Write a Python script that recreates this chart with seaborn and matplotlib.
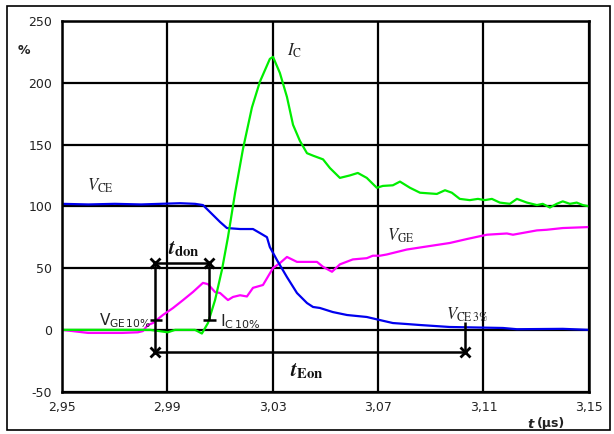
import numpy as np
import pandas as pd
import matplotlib
matplotlib.use("Agg")
import matplotlib.pyplot as plt
import seaborn as sns
from matplotlib.patches import Rectangle

# ---------------- data ----------------
t_vce = [2.950, 2.960, 2.970, 2.980, 2.9948, 3.0005, 3.0035, 3.0073, 3.0100, 3.0126,
         3.0176, 3.0225, 3.0251, 3.0278, 3.0289, 3.0316, 3.0354, 3.0392, 3.0430, 3.0453,
         3.0479, 3.0528, 3.0582, 3.0657, 3.0707, 3.0756, 3.0809, 3.0859, 3.0972, 3.1174,
         3.1227, 3.1401, 3.1500]
vce = [102.0, 101.5, 102.0, 101.5, 102.5, 102.0, 101.0, 93.0, 87.3, 82.4,
       81.6, 81.6, 78.4, 75.0, 67.0, 56.5, 42.7, 29.8, 21.7, 18.5,
       17.7, 14.4, 12.0, 10.4, 7.9, 5.5, 4.7, 3.9, 2.3, 1.5,
       0.5, 0.8, 0.0]

t_ic = [2.950, 2.9834, 2.9902, 2.9929, 3.0005, 3.0031, 3.0054, 3.0081, 3.0107, 3.0130,
        3.0157, 3.0187, 3.0221, 3.0251, 3.0289, 3.0301, 3.0327, 3.0354, 3.0377, 3.0403,
        3.0430, 3.0453, 3.0491, 3.0517, 3.0555, 3.0593, 3.0623, 3.0657, 3.0695, 3.0718,
        3.0756, 3.0783, 3.0821, 3.0859, 3.0923, 3.0954, 3.0980, 3.1010, 3.1048, 3.1079,
        3.1105, 3.1132, 3.1162, 3.1200, 3.1227, 3.1265, 3.1303, 3.1325, 3.1352, 3.1378,
        3.1401, 3.1428, 3.1454, 3.1477, 3.1500]
ic = [0.0, 0.0, -2.0, 0.0, 0.0, -3.0, 5.5, 24.1, 48.4, 75.0,
      110.8, 146.4, 180.0, 200.7, 219.3, 221.0, 208.0, 188.5, 166.0, 153.0,
      143.0, 141.0, 138.0, 131.0, 123.0, 125.0, 127.0, 123.0, 115.0, 116.5,
      117.0, 120.0, 115.0, 111.0, 110.0, 113.0, 111.0, 106.0, 105.0, 106.0,
      105.0, 106.0, 103.0, 102.0, 106.0, 103.0, 101.0, 102.0, 99.0, 102.0,
      104.0, 102.0, 103.0, 101.0, 100.0]

t_vge = [2.950, 2.9599, 2.9728, 2.9788, 2.9807, 2.9826, 2.9845, 2.9883, 2.9921, 2.9959,
         2.9997, 3.0035, 3.0054, 3.0081, 3.0100, 3.0130, 3.0149, 3.0176, 3.0202, 3.0225,
         3.0263, 3.0301, 3.0327, 3.0354, 3.0392, 3.0430, 3.0468, 3.0491, 3.0525, 3.0555,
         3.0604, 3.0657, 3.0680, 3.0707, 3.0733, 3.0809, 3.0870, 3.0972, 3.1037, 3.1113,
         3.1189, 3.1212, 3.1303, 3.1340, 3.1401, 3.1500]
vge = [0.0, -2.5, -2.5, -2.0, -1.0, 3.9, 5.5, 12.0, 17.6, 24.0,
       30.6, 38.0, 37.0, 30.6, 29.8, 24.1, 26.6, 28.0, 27.0, 34.0,
       36.3, 50.0, 54.0, 59.0, 55.0, 55.0, 55.0, 51.0, 47.0, 53.0,
       57.0, 58.0, 60.0, 60.0, 61.0, 65.0, 67.0, 70.3, 73.5, 77.0,
       78.0, 77.0, 80.5, 81.0, 82.4, 83.2]

x_ticks = [2.95, 2.99, 3.03, 3.07, 3.11, 3.15]
x_tick_labels = ["2,95", "2,99", "3,03", "3,07", "3,11", "3,15"]
y_ticks = [-50, 0, 50, 100, 150, 200, 250]

# annotation anchors (time in µs, level in %)
t_don_start = 2.9853
t_don_end = 3.0059
t_eon_end = 3.1029
level_don = 54
level_eon = -18
level_10 = 8

# ---------------- style ----------------
sns.set_style("white")
plt.rcParams["font.family"] = ["DejaVu Sans"]
plt.rcParams["mathtext.fontset"] = "stix"

fig = plt.figure(figsize=(6.14, 4.34), dpi=100)
ax = fig.add_axes([0.101, 0.0977, 0.858, 0.8539])

df_vce = pd.DataFrame({"t": t_vce, "v": vce})
df_ic = pd.DataFrame({"t": t_ic, "v": ic})
df_vge = pd.DataFrame({"t": t_vge, "v": vge})

lw = 1.6
sns.lineplot(data=df_vge, x="t", y="v", ax=ax, color="#ff00ff", lw=lw, zorder=4)
sns.lineplot(data=df_vce, x="t", y="v", ax=ax, color="#0000ee", lw=lw, zorder=5)
sns.lineplot(data=df_ic, x="t", y="v", ax=ax, color="#00ee00", lw=lw, zorder=6)

ax.set_xlim(2.95, 3.15)
ax.set_ylim(-50, 250)
ax.set_xticks(x_ticks)
ax.set_xticklabels(x_tick_labels, fontsize=9)
ax.set_yticks(y_ticks)
ax.set_yticklabels([str(v) for v in y_ticks], fontsize=9)
ax.set_xlabel("")
ax.set_ylabel("")
ax.grid(True, color="black", lw=1.6, zorder=1)
ax.set_axisbelow(True)
for s in ax.spines.values():
    s.set_color("black")
    s.set_linewidth(1.8)
    s.set_zorder(7)
ax.tick_params(axis="both", direction="out", length=5, width=1.6, color="black",
               labelcolor="#222222", pad=2)

# ---------------- annotation lines ----------------
k = dict(color="black", lw=1.8, zorder=8, solid_capstyle="butt")
ax.plot([t_don_start, t_don_start], [level_don, level_eon], **k)
ax.plot([t_don_start, t_don_end], [level_don, level_don], **k)
ax.plot([t_don_end, t_don_end], [level_don, level_10], **k)
ax.plot([t_don_start, t_eon_end], [level_eon, level_eon], **k)
ax.plot([t_eon_end, t_eon_end], [level_eon, 6], **k)
ax.plot([t_don_start - 0.0018, t_don_start + 0.0025], [level_10, level_10], **k)
ax.plot([t_don_end - 0.0022, t_don_end + 0.0025], [level_10, level_10], **k)
ax.plot([t_don_start, t_don_end, t_don_start, t_eon_end],
        [level_don, level_don, level_eon, level_eon],
        ls="none", marker="x", ms=7, mew=2, color="black", zorder=9)

# ---------------- labels ----------------
ax.text(2.9595, 113, r"$V_{\mathrm{CE}}$", fontsize=12, color="#222222", zorder=10)
ax.text(3.0355, 222, r"$I_{\mathrm{C}}$", fontsize=12, color="#222222", zorder=10)
ax.text(3.0735, 72, r"$V_{\mathrm{GE}}$", fontsize=12, color="#222222", zorder=10)
ax.text(3.0958, 8, r"$V_{\mathrm{CE\,3\%}}$", fontsize=12, color="#222222", zorder=10)
ax.text(2.9962, 61, r"$\mathbfit{t}_{\mathbf{don}}$", fontsize=15, ha="center",
        color="#111111", zorder=10)
ax.text(3.0428, -38, r"$\mathbfit{t}_{\mathbf{Eon}}$", fontsize=15, ha="center",
        color="#111111", zorder=10)
ax.text(2.9837, 4, r"$\mathregular{V_{GE\,10\%}}$", fontsize=11, ha="right",
        color="#222222", zorder=10)
ax.text(3.0100, 3, r"$\mathregular{I_{C\,10\%}}$", fontsize=11.5, ha="left",
        color="#222222", zorder=10)

fig.text(24 / 614, 1 - 51 / 434, "%", fontsize=9, fontweight="bold",
         ha="center", va="center", color="#222222")
fig.text(534 / 614, 1 - 424 / 434, "t", fontsize=9.5, fontweight="bold",
         style="italic", ha="right", va="center", color="#222222")
fig.text(537 / 614, 1 - 424 / 434, "(µs)", fontsize=9,
         fontweight="bold", ha="left", va="center", color="#222222")

fig.add_artist(Rectangle((7 / 614, 4 / 434), 603 / 614, 424 / 434,
                         transform=fig.transFigure, fill=False,
                         edgecolor="black", lw=1.2))

fig.savefig("out.png", dpi=100)
